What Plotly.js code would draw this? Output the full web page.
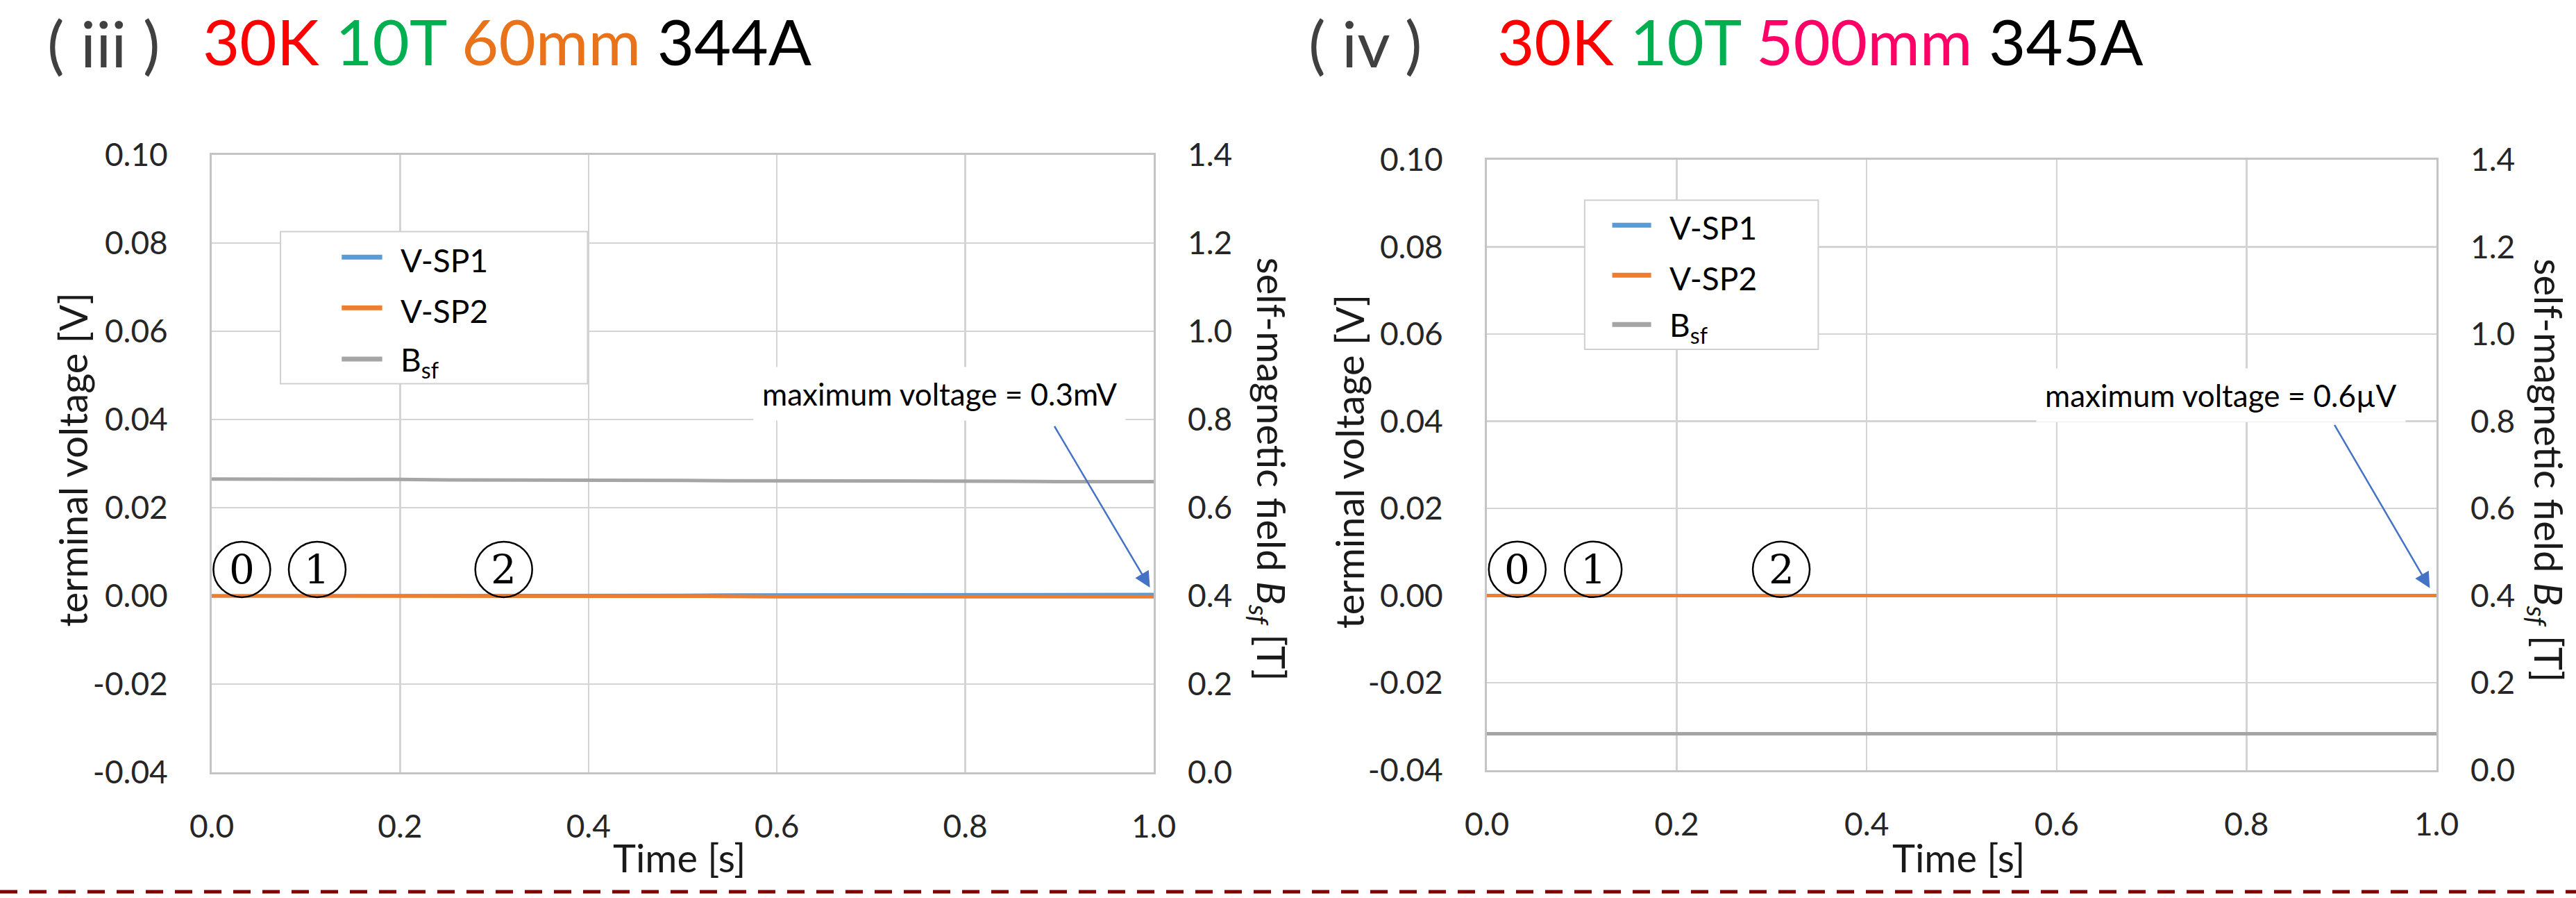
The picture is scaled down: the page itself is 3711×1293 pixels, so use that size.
<!DOCTYPE html>
<html>
<head>
<meta charset="utf-8">
<script src="https://cdn.plot.ly/plotly-3.0.1.min.js"></script>
<style>
  html, body { margin: 0; padding: 0; background: #ffffff; }
  #chart { width: 3711px; height: 1293px; }
</style>
</head>
<body>
<div id="chart"></div>
<script>
// ---------------- data ----------------
const time = [0.00, 0.05, 0.10, 0.15, 0.20, 0.25, 0.30, 0.35, 0.40, 0.45, 0.50,
              0.55, 0.60, 0.65, 0.70, 0.75, 0.80, 0.85, 0.90, 0.95, 1.00];

// panel (iii) 30K 10T 60mm 344A
const vsp1_iii = [0.0000, 0.0000, 0.0000, 0.0000, 0.0000, 0.0001, 0.0001, 0.0001, 0.0001, 0.0001, 0.0001,
                  0.0002, 0.0002, 0.0002, 0.0002, 0.0002, 0.0003, 0.0003, 0.0003, 0.0003, 0.0003];
const vsp2_iii = [0.0000, 0.0000, 0.0000, 0.0000, 0.0000, -0.0001, -0.0001, -0.0001, -0.0001, -0.0001, -0.0001,
                  -0.0001, -0.0002, -0.0002, -0.0002, -0.0002, -0.0002, -0.0002, -0.0002, -0.0002, -0.0002];
const bsf_iii  = [0.665, 0.665, 0.664, 0.664, 0.664, 0.663, 0.663, 0.663, 0.662, 0.662, 0.662,
                  0.661, 0.661, 0.661, 0.660, 0.660, 0.660, 0.660, 0.659, 0.659, 0.659];

// panel (iv) 30K 10T 500mm 345A
const vsp1_iv = [0.0000, 0.0000, 0.0000, 0.0000, 0.0000, 0.0000, 0.0000, 0.0000, 0.0000, 0.0000, 0.0000,
                 0.0000, 0.0000, 0.0000, 0.0000, 0.0000, 0.0000, 0.0000, 0.0000, 0.0000, 0.0000];
const vsp2_iv = [0.0000, 0.0000, 0.0000, 0.0000, 0.0000, 0.0000, 0.0000, 0.0000, 0.0000, 0.0000, 0.0000,
                 0.0000, 0.0000, 0.0000, 0.0000, 0.0000, 0.0000, 0.0000, 0.0000, 0.0000, 0.0000];
const bsf_iv  = [0.083, 0.083, 0.083, 0.083, 0.083, 0.083, 0.083, 0.083, 0.083, 0.083, 0.083,
                 0.083, 0.083, 0.083, 0.083, 0.083, 0.083, 0.083, 0.083, 0.083, 0.083];

const seriesNames = ['V-SP1', 'V-SP2', 'B<sub>sf</sub>'];

const xTickVals = [0, 0.2, 0.4, 0.6, 0.8, 1.0];
const xTickText = ['0.0', '0.2', '0.4', '0.6', '0.8', '1.0'];
const yTickVals = [-0.04, -0.02, 0.00, 0.02, 0.04, 0.06, 0.08, 0.10];
const yTickText = ['-0.04', '-0.02', '0.00', '0.02', '0.04', '0.06', '0.08', '0.10'];
const y2TickVals = [0, 0.2, 0.4, 0.6, 0.8, 1.0, 1.2, 1.4];
const y2TickText = ['0.0', '0.2', '0.4', '0.6', '0.8', '1.0', '1.2', '1.4'];

const panelLabels = ['( iii )', '( iv )'];
const panelTitles = [
  [['30K', '#FF0000'], ['10T', '#00B050'], ['60mm', '#E8731A'], ['344A', '#000000']],
  [['30K', '#FF0000'], ['10T', '#00B050'], ['500mm', '#FF0066'], ['345A', '#000000']]
];
const maxVoltageTexts = ['maximum voltage = 0.3mV', 'maximum voltage = 0.6\u00B5V'];
const stageLabels = ['0', '1', '2'];

// ---------------- styles / layout helpers ----------------
const W = 3711, H = 1293;
const px = v => v / W;
const py = v => 1 - v / H;
const FONT = 'Lato, "Open Sans", sans-serif';
const C_SP1 = '#5B9BD5', C_SP2 = '#ED7D31', C_BSF = '#A5A5A5';
const GRID = '#D4D4D4', BORDER = '#C4C4C4';

function line(x, y, name, color, xa, ya, w) {
  return { x: x, y: y, name: name, type: 'scatter', mode: 'lines', xaxis: xa, yaxis: ya,
           line: { color: color, width: w }, showlegend: false, hoverinfo: 'skip' };
}

const data = [
  line(time, vsp1_iii, seriesNames[0], C_SP1, 'x', 'y', 5),
  line(time, vsp2_iii, seriesNames[1], C_SP2, 'x', 'y', 5),
  line(time, bsf_iii, seriesNames[2], C_BSF, 'x', 'y2', 5),
  line(time, vsp1_iv, seriesNames[0], C_SP1, 'x2', 'y3', 5),
  line(time, vsp2_iv, seriesNames[1], C_SP2, 'x2', 'y3', 5),
  line(time, bsf_iv, seriesNames[2], C_BSF, 'x2', 'y4', 5)
];

const tickFont = { family: FONT, size: 46, color: '#262626' };

function xAxis(domain, anchor) {
  return { domain: domain, anchor: anchor, range: [0, 1], tickvals: xTickVals, ticktext: xTickText,
           ticks: '', showgrid: true, gridcolor: GRID, gridwidth: 2.5, zeroline: false,
           showline: true, mirror: true, linecolor: BORDER, linewidth: 3,
           tickfont: tickFont, ticklabelstandoff: 36, fixedrange: true };
}
function yAxis(domain, anchor) {
  return { domain: domain, anchor: anchor, range: [-0.04, 0.10], tickvals: yTickVals, ticktext: yTickText,
           ticks: '', showgrid: true, gridcolor: GRID, gridwidth: 2.5, zeroline: false,
           showline: true, mirror: true, linecolor: BORDER, linewidth: 3,
           tickfont: tickFont, ticklabelstandoff: 51, fixedrange: true };
}
function y2Axis(over, anchor) {
  return { overlaying: over, anchor: anchor, side: 'right', range: [0, 1.4],
           tickvals: y2TickVals, ticktext: y2TickText, ticks: '', showgrid: false, zeroline: false,
           showline: false, tickfont: tickFont, ticklabelstandoff: 48, fixedrange: true };
}

// panel geometry (pixels)
const P = [
  { l: 305, r: 1662, t: 223, b: 1112, xa: 'x', ya: 'y', ylab: 104, y2lab: 1828, label: 66, title: 290,
    legend: { x0: 0.073, x1: 0.399, y0: 0.0481, y1: 0.0826, lx0: 0.138, lx1: 0.181, tx: 0.199, ys: [0.0768, 0.0653, 0.0537] },
    arrow: { tx: 0.894, ty: 0.0387, hx: 0.996, hy: 0.0019 } },
  { l: 2142, r: 3510, t: 230, b: 1108.5, xa: 'x2', ya: 'y3', ylab: 1943, y2lab: 3669, label: 1883, title: 2155,
    legend: { x0: 0.103, x1: 0.349, y0: 0.0565, y1: 0.0907, lx0: 0.132, lx1: 0.173, tx: 0.191, ys: [0.0850, 0.0735, 0.0622] },
    arrow: { tx: 0.892, ty: 0.0394, hx: 0.993, hy: 0.0017 } }
];

const layout = {
  width: W, height: H,
  margin: { l: 0, r: 0, t: 0, b: 0 },
  paper_bgcolor: '#ffffff', plot_bgcolor: '#ffffff',
  showlegend: false,
  xaxis: xAxis([px(P[0].l), px(P[0].r)], 'y'),
  yaxis: yAxis([py(P[0].b), py(P[0].t)], 'x'),
  yaxis2: y2Axis('y', 'x'),
  xaxis2: xAxis([px(P[1].l), px(P[1].r)], 'y3'),
  yaxis3: yAxis([py(P[1].b), py(P[1].t)], 'x2'),
  yaxis4: y2Axis('y3', 'x2'),
  shapes: [],
  annotations: []
};

const legendColors = [C_SP1, C_SP2, C_BSF];
const stageX = [0.032, 0.112, 0.31];

P.forEach((p, i) => {
  const cx = (p.l + p.r) / 2, cy = (p.t + p.b) / 2;
  // panel label and title
  layout.annotations.push({ xref: 'paper', yref: 'paper', x: px(p.label), y: py(62), xanchor: 'left', yanchor: 'middle',
    text: panelLabels[i], showarrow: false, font: { family: FONT, size: 92, color: '#404040' } });
  layout.annotations.push({ xref: 'paper', yref: 'paper', x: px(p.title), y: py(58), xanchor: 'left', yanchor: 'middle',
    text: panelTitles[i].map(s => '<span style="color:' + s[1] + '">' + s[0] + '</span>').join(' '),
    showarrow: false, font: { family: FONT, size: 92, color: '#000000' } });
  // axis titles
  layout.annotations.push({ xref: 'paper', yref: 'paper', x: px(p.ylab), y: py(cy - 5), xanchor: 'center', yanchor: 'middle',
    textangle: -90, text: 'terminal voltage [V]', showarrow: false, font: { family: FONT, size: 56, color: '#1a1a1a' } });
  layout.annotations.push({ xref: 'paper', yref: 'paper', x: px(p.y2lab), y: py(cy + 8), xanchor: 'center', yanchor: 'middle',
    textangle: 90, text: 'self-magnetic field <i>B<sub>sf</sub></i> [T]', showarrow: false,
    font: { family: FONT, size: 56, color: '#1a1a1a' } });
  layout.annotations.push({ xref: 'paper', yref: 'paper', x: px(cx - 5), y: py(1234), xanchor: 'center', yanchor: 'middle',
    text: 'Time [s]', showarrow: false, font: { family: FONT, size: 56, color: '#1a1a1a' } });

  // legend box
  const lg = p.legend;
  layout.shapes.push({ type: 'rect', xref: p.xa, yref: p.ya, x0: lg.x0, x1: lg.x1, y0: lg.y0, y1: lg.y1,
    fillcolor: '#ffffff', line: { color: '#D0D0D0', width: 2 }, layer: 'above' });
  lg.ys.forEach((yy, k) => {
    layout.shapes.push({ type: 'line', xref: p.xa, yref: p.ya, x0: lg.lx0, x1: lg.lx1, y0: yy, y1: yy,
      line: { color: legendColors[k], width: 7 }, layer: 'above' });
    layout.annotations.push({ xref: p.xa, yref: p.ya, x: lg.tx, y: yy - 0.0006, xanchor: 'left', yanchor: 'middle',
      text: seriesNames[k], showarrow: false, font: { family: FONT, size: 46, color: '#000000' } });
  });

  // maximum voltage note + arrow
  layout.annotations.push({ xref: p.xa, yref: p.ya, x: 0.773, y: 0.0459, xanchor: 'center', yanchor: 'middle',
    text: maxVoltageTexts[i], showarrow: false, bgcolor: '#ffffff', borderpad: 12,
    font: { family: FONT, size: 44, color: '#000000' } });
  layout.annotations.push({ xref: p.xa, yref: p.ya, axref: p.xa, ayref: p.ya,
    x: p.arrow.hx, y: p.arrow.hy, ax: p.arrow.tx, ay: p.arrow.ty, text: '',
    showarrow: true, arrowhead: 2, arrowsize: 1.8, arrowwidth: 2.5, arrowcolor: '#4472C4', standoff: 0 });

  // stage markers (circled numbers)
  stageX.forEach((sx, k) => {
    layout.shapes.push({ type: 'circle', xref: p.xa, yref: p.ya, xsizemode: 'pixel', ysizemode: 'pixel',
      xanchor: sx, yanchor: 0.006, x0: -41, x1: 41, y0: -40, y1: 40,
      line: { color: '#000000', width: 2.5 }, fillcolor: 'rgba(255,255,255,0)', layer: 'above' });
    layout.annotations.push({ xref: p.xa, yref: p.ya, x: sx, y: 0.006, xanchor: 'center', yanchor: 'middle',
      text: stageLabels[k], showarrow: false, font: { family: '"DejaVu Serif", serif', size: 58, color: '#000000' } });
  });
});

// dashed separator at the bottom
layout.shapes.push({ type: 'line', xref: 'paper', yref: 'paper', x0: 0, x1: 1, y0: py(1284), y1: py(1284),
  line: { color: '#7F0000', width: 5, dash: '25px,17px' } });

Plotly.newPlot('chart', data, layout, { staticPlot: true, displayModeBar: false, responsive: false });
</script>
</body>
</html>
